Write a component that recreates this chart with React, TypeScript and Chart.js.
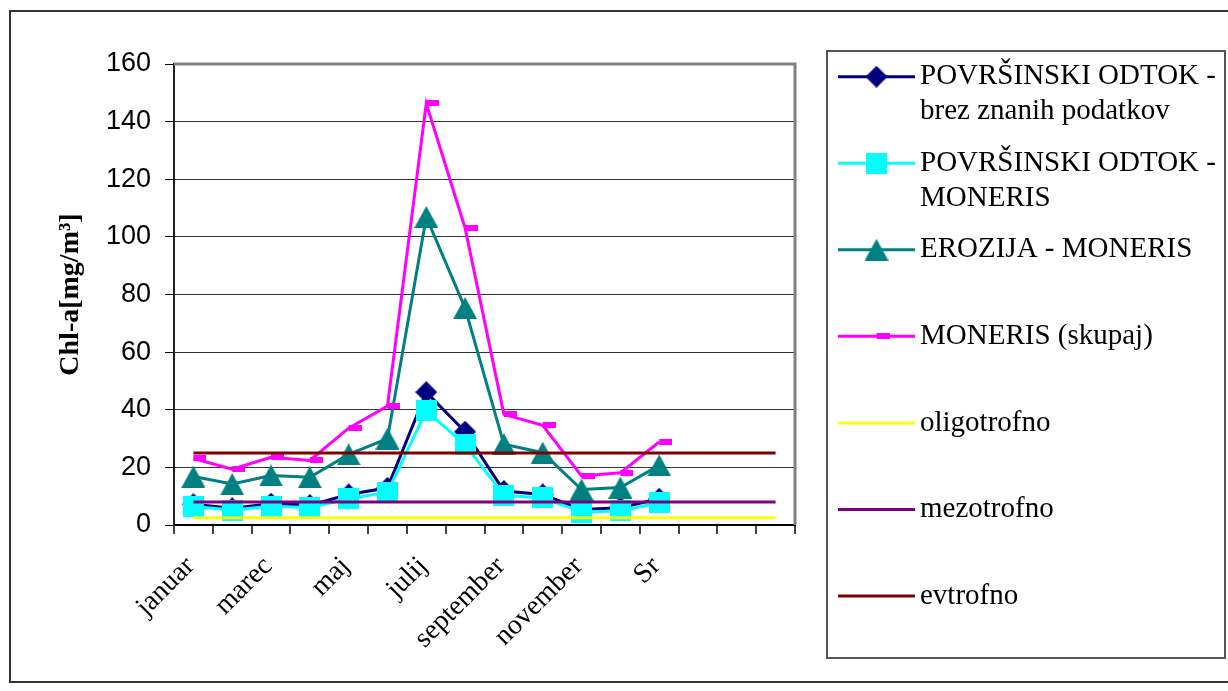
import React, { useEffect, useRef } from 'react';
import { Chart, registerables } from 'chart.js';

Chart.register(...registerables);

// Categories along the x axis (only every second one gets a label)
const months = [
  'januar', 'februar', 'marec', 'april', 'maj', 'junij', 'julij', 'avgust',
  'september', 'oktober', 'november', 'december', 'Sr', '', '', '',
];
const labelEvery = 2;

// Y axis range and step
const yMin = 0;
const yMax = 160;
const yStep = 20;
const yTitle = 'Chl-a[mg/m³]';

// Series values (Chl-a, mg/m3)
const povrsinskiBrez = [7.2, 5.8, 7.4, 6.9, 10.6, 12.9, 46.1, 32.4, 11.8, 10.6, 5.4, 6.0, 9.1, null, null, null];
const povrsinskiMoneris = [6.4, 5.2, 6.5, 6.1, 9.1, 11.4, 39.6, 27.9, 10.3, 9.4, 4.5, 4.9, 7.7, null, null, null];
const erozijaMoneris = [16.8, 14.2, 17.2, 16.6, 24.5, 30.0, 106.9, 75.3, 28.0, 25.1, 12.3, 13.0, 20.7, null, null, null];
const monerisSkupaj = [23.1, 19.4, 23.5, 22.4, 33.6, 41.3, 146.3, 103.1, 38.4, 34.6, 17.0, 18.1, 28.8, null, null, null];

// Trophic thresholds
const oligotrofno = [2.5, 2.5, 2.5, 2.5, 2.5, 2.5, 2.5, 2.5, 2.5, 2.5, 2.5, 2.5, 2.5, 2.5, 2.5, 2.5];
const mezotrofno = [8, 8, 8, 8, 8, 8, 8, 8, 8, 8, 8, 8, 8, 8, 8, 8];
const evtrofno = [25, 25, 25, 25, 25, 25, 25, 25, 25, 25, 25, 25, 25, 25, 25, 25];

const seriesLabels = [
  ['POVRŠINSKI ODTOK -', 'brez znanih podatkov'],
  ['POVRŠINSKI ODTOK -', 'MONERIS'],
  ['EROZIJA - MONERIS'],
  ['MONERIS (skupaj)'],
  ['oligotrofno'],
  ['mezotrofno'],
  ['evtrofno'],
];

const colors = ['#000080', '#00FFFF', '#008080', '#FF00FF', '#FFFF00', '#800080', '#800000'];

type MarkerKind = 'diamond' | 'square' | 'triangle' | 'dash' | 'none';
const markerKinds: MarkerKind[] = ['diamond', 'square', 'triangle', 'dash', 'none', 'none', 'none'];

function makeMarker(kind: MarkerKind, color: string): HTMLCanvasElement | null {
  if (kind === 'none') return null;
  const c = document.createElement('canvas');
  const g = c.getContext('2d')!;
  if (kind === 'diamond') {
    c.width = 22; c.height = 22;
    g.fillStyle = color;
    g.beginPath();
    g.moveTo(11, 0); g.lineTo(22, 11); g.lineTo(11, 22); g.lineTo(0, 11);
    g.closePath(); g.fill();
  } else if (kind === 'square') {
    c.width = 21; c.height = 21;
    g.fillStyle = color;
    g.fillRect(0, 0, 21, 21);
  } else if (kind === 'triangle') {
    c.width = 24; c.height = 22;
    g.fillStyle = color;
    g.beginPath();
    g.moveTo(12, 0); g.lineTo(24, 22); g.lineTo(0, 22);
    g.closePath(); g.fill();
  } else if (kind === 'dash') {
    // short bar that sits to the right of the point
    c.width = 26; c.height = 6;
    g.fillStyle = color;
    g.fillRect(13, 0, 13, 6);
  }
  return c;
}

export default function App() {
  const canvasRef = useRef<HTMLCanvasElement | null>(null);

  useEffect(() => {
    if (!canvasRef.current) return;
    const markers = markerKinds.map((k, i) => makeMarker(k, colors[i]));
    const seriesData = [
      povrsinskiBrez, povrsinskiMoneris, erozijaMoneris, monerisSkupaj,
      oligotrofno, mezotrofno, evtrofno,
    ];

    const frameAndLegend = {
      id: 'frameAndLegend',
      beforeDraw(chart: any) {
        const ctx = chart.ctx;
        ctx.save();
        ctx.fillStyle = '#ffffff';
        ctx.fillRect(0, 0, chart.width, chart.height);
        ctx.restore();
      },
      beforeDatasetsDraw(chart: any) {
        const { ctx, chartArea } = chart;
        ctx.save();
        ctx.strokeStyle = '#808080';
        ctx.lineWidth = 3;
        ctx.beginPath();
        ctx.moveTo(chartArea.left, chartArea.top);
        ctx.lineTo(chartArea.right, chartArea.top);
        ctx.lineTo(chartArea.right, chartArea.bottom);
        ctx.stroke();
        ctx.restore();
      },
      afterDraw(chart: any) {
        const ctx = chart.ctx;
        ctx.save();

        // rotated category labels under the x axis
        const xs = chart.scales.x;
        ctx.font = '28px "Liberation Serif"';
        ctx.fillStyle = '#000000';
        ctx.textAlign = 'right';
        ctx.textBaseline = 'middle';
        months.forEach((m, i) => {
          if (!m || i % labelEvery !== 0) return;
          const x = xs.getPixelForValue(i);
          ctx.save();
          ctx.translate(x - 3, 562);
          ctx.rotate(-Math.PI / 4);
          ctx.fillText(m, 0, 0);
          ctx.restore();
        });

        // outer frame
        ctx.strokeStyle = '#333333';
        ctx.lineWidth = 2;
        ctx.strokeRect(10, 11, 1240, 671);
        // legend box
        ctx.strokeStyle = '#555555';
        ctx.lineWidth = 2;
        ctx.strokeRect(827, 51, 398, 607);

        const rowStart = 76.7;
        const rowStep = 86.55;
        ctx.font = '29px "Liberation Serif"';
        ctx.fillStyle = '#000000';
        ctx.textAlign = 'left';
        ctx.textBaseline = 'middle';
        seriesLabels.forEach((lines, k) => {
          const y = rowStart + k * rowStep;
          ctx.strokeStyle = colors[k];
          ctx.lineWidth = 3;
          ctx.beginPath();
          ctx.moveTo(838, y);
          ctx.lineTo(915, y);
          ctx.stroke();
          const mk = markers[k];
          if (mk) {
            ctx.drawImage(mk, 876.5 - mk.width / 2, y - mk.height / 2);
          }
          lines.forEach((t, j) => {
            ctx.fillText(t, 920, y + j * 35);
          });
        });
        ctx.restore();
      },
    };

    Chart.defaults.color = '#000000';

    const chart = new Chart(canvasRef.current, {
      type: 'line',
      data: {
        labels: months,
        datasets: seriesData.map((d, i) => ({
          label: seriesLabels[i].join(' '),
          data: d,
          borderColor: colors[i],
          backgroundColor: colors[i],
          borderWidth: 3,
          pointStyle: (markers[i] as any) || 'circle',
          pointRadius: markers[i] ? 6 : 0,
          pointHoverRadius: markers[i] ? 6 : 0,
          tension: 0,
          fill: false,
          order: seriesData.length - i,
        })),
      },
      options: {
        responsive: false,
        animation: false,
        events: [],
        layout: { padding: { left: 0, top: 64, right: 433, bottom: 0 } },
        plugins: {
          legend: { display: false },
          tooltip: { enabled: false },
          title: { display: false },
        },
        scales: {
          x: {
            type: 'category',
            offset: true,
            grid: {
              offset: true,
              drawOnChartArea: false,
              drawTicks: true,
              tickLength: 9,
              color: '#444444',
              lineWidth: 2,
            },
            border: { display: true, color: '#000000', width: 2 },
            ticks: { display: false },
            afterFit: (scale: any) => { scale.height = 166; },
          },
          y: {
            min: yMin,
            max: yMax,
            grid: {
              color: '#333333',
              lineWidth: 1,
              tickLength: 9,
              tickColor: '#000000',
              drawTicks: true,
            },
            border: { display: true, color: '#222222', width: 2 },
            ticks: {
              stepSize: yStep,
              padding: 14,
              color: '#000000',
              font: { family: 'Liberation Sans', size: 27 },
            },
            title: {
              display: true,
              text: yTitle,
              color: '#000000',
              font: { family: 'Liberation Serif', size: 28, weight: 'bold' },
              padding: { top: 54, bottom: 0 },
            },
            afterFit: (scale: any) => { scale.width = 174; },
          },
        },
      },
      plugins: [frameAndLegend],
    } as any);

    return () => chart.destroy();
  }, []);

  return (
    <div style={{ position: 'fixed', left: 0, top: 0, width: 1228, height: 691, background: '#fff' }}>
      <canvas ref={canvasRef} width={1228} height={691} style={{ display: 'block' }} />
    </div>
  );
}
